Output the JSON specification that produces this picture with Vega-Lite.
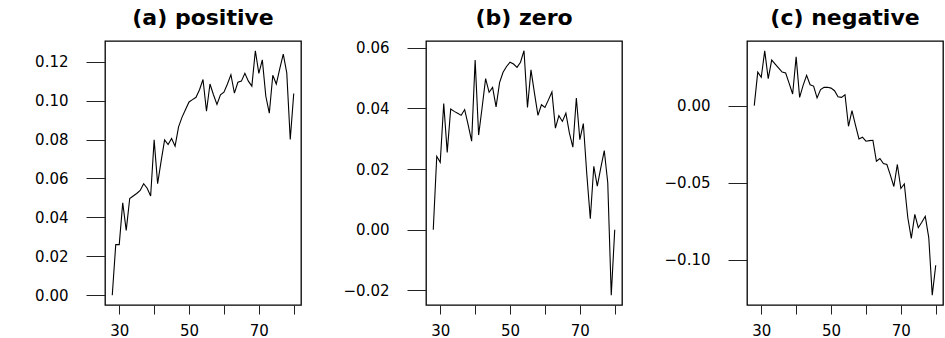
{
  "$schema": "https://vega.github.io/schema/vega-lite/v6.json",
  "background": "white",
  "padding": {"left": 33, "top": 6, "right": 0, "bottom": 0},
  "data": {"values": [
    {"panel":"a","age":28,"v":0.000},{"panel":"a","age":29,"v":0.026},{"panel":"a","age":30,"v":0.026},{"panel":"a","age":31,"v":0.0475},{"panel":"a","age":32,"v":0.0333},{"panel":"a","age":33,"v":0.0497},{"panel":"a","age":34,"v":0.051},{"panel":"a","age":35,"v":0.0523},{"panel":"a","age":36,"v":0.0538},{"panel":"a","age":37,"v":0.0573},{"panel":"a","age":38,"v":0.055},{"panel":"a","age":39,"v":0.051},{"panel":"a","age":40,"v":0.0798},{"panel":"a","age":41,"v":0.0573},{"panel":"a","age":42,"v":0.0689},{"panel":"a","age":43,"v":0.0798},{"panel":"a","age":44,"v":0.0774},{"panel":"a","age":45,"v":0.0805},{"panel":"a","age":46,"v":0.0766},{"panel":"a","age":47,"v":0.0865},{"panel":"a","age":48,"v":0.0915},{"panel":"a","age":49,"v":0.0954},{"panel":"a","age":50,"v":0.0993},{"panel":"a","age":51,"v":0.1005},{"panel":"a","age":52,"v":0.1017},{"panel":"a","age":53,"v":0.1056},{"panel":"a","age":54,"v":0.1108},{"panel":"a","age":55,"v":0.0945},{"panel":"a","age":56,"v":0.1085},{"panel":"a","age":57,"v":0.103},{"panel":"a","age":58,"v":0.098},{"panel":"a","age":59,"v":0.103},{"panel":"a","age":60,"v":0.1043},{"panel":"a","age":61,"v":0.1085},{"panel":"a","age":62,"v":0.1133},{"panel":"a","age":63,"v":0.1038},{"panel":"a","age":64,"v":0.1094},{"panel":"a","age":65,"v":0.11},{"panel":"a","age":66,"v":0.114},{"panel":"a","age":67,"v":0.11},{"panel":"a","age":68,"v":0.1074},{"panel":"a","age":69,"v":0.1256},{"panel":"a","age":70,"v":0.114},{"panel":"a","age":71,"v":0.1209},{"panel":"a","age":72,"v":0.1022},{"panel":"a","age":73,"v":0.0935},{"panel":"a","age":74,"v":0.113},{"panel":"a","age":75,"v":0.1085},{"panel":"a","age":76,"v":0.1164},{"panel":"a","age":77,"v":0.1239},{"panel":"a","age":78,"v":0.1142},{"panel":"a","age":79,"v":0.08},{"panel":"a","age":80,"v":0.1036},
    {"panel":"b","age":28,"v":0.000},{"panel":"b","age":29,"v":0.0242},{"panel":"b","age":30,"v":0.0222},{"panel":"b","age":31,"v":0.0416},{"panel":"b","age":32,"v":0.0255},{"panel":"b","age":33,"v":0.0398},{"panel":"b","age":34,"v":0.039},{"panel":"b","age":35,"v":0.0384},{"panel":"b","age":36,"v":0.0377},{"panel":"b","age":37,"v":0.0396},{"panel":"b","age":38,"v":0.0346},{"panel":"b","age":39,"v":0.0292},{"panel":"b","age":40,"v":0.0559},{"panel":"b","age":41,"v":0.0312},{"panel":"b","age":42,"v":0.0403},{"panel":"b","age":43,"v":0.0498},{"panel":"b","age":44,"v":0.0453},{"panel":"b","age":45,"v":0.0469},{"panel":"b","age":46,"v":0.0405},{"panel":"b","age":47,"v":0.0485},{"panel":"b","age":48,"v":0.0519},{"panel":"b","age":49,"v":0.0538},{"panel":"b","age":50,"v":0.0552},{"panel":"b","age":51,"v":0.0546},{"panel":"b","age":52,"v":0.0535},{"panel":"b","age":53,"v":0.0552},{"panel":"b","age":54,"v":0.059},{"panel":"b","age":55,"v":0.0403},{"panel":"b","age":56,"v":0.0527},{"panel":"b","age":57,"v":0.045},{"panel":"b","age":58,"v":0.0377},{"panel":"b","age":59,"v":0.0412},{"panel":"b","age":60,"v":0.0403},{"panel":"b","age":61,"v":0.0428},{"panel":"b","age":62,"v":0.0454},{"panel":"b","age":63,"v":0.0335},{"panel":"b","age":64,"v":0.0376},{"panel":"b","age":65,"v":0.0357},{"panel":"b","age":66,"v":0.0384},{"panel":"b","age":67,"v":0.0319},{"panel":"b","age":68,"v":0.0272},{"panel":"b","age":69,"v":0.0434},{"panel":"b","age":70,"v":0.0297},{"panel":"b","age":71,"v":0.035},{"panel":"b","age":72,"v":0.0182},{"panel":"b","age":73,"v":0.0036},{"panel":"b","age":74,"v":0.0209},{"panel":"b","age":75,"v":0.0144},{"panel":"b","age":76,"v":0.0204},{"panel":"b","age":77,"v":0.0261},{"panel":"b","age":78,"v":0.0155},{"panel":"b","age":79,"v":-0.0216},{"panel":"b","age":80,"v":0.000},
    {"panel":"c","age":28,"v":0.000},{"panel":"c","age":29,"v":0.0218},{"panel":"c","age":30,"v":0.0184},{"panel":"c","age":31,"v":0.0356},{"panel":"c","age":32,"v":0.0175},{"panel":"c","age":33,"v":0.0296},{"panel":"c","age":34,"v":0.027},{"panel":"c","age":35,"v":0.0244},{"panel":"c","age":36,"v":0.0218},{"panel":"c","age":37,"v":0.0212},{"panel":"c","age":38,"v":0.0145},{"panel":"c","age":39,"v":0.0076},{"panel":"c","age":40,"v":0.0317},{"panel":"c","age":41,"v":0.0054},{"panel":"c","age":42,"v":0.0132},{"panel":"c","age":43,"v":0.0197},{"panel":"c","age":44,"v":0.0136},{"panel":"c","age":45,"v":0.0127},{"panel":"c","age":46,"v":0.005},{"panel":"c","age":47,"v":0.0104},{"panel":"c","age":48,"v":0.0119},{"panel":"c","age":49,"v":0.0119},{"panel":"c","age":50,"v":0.0114},{"panel":"c","age":51,"v":0.0097},{"panel":"c","age":52,"v":0.0058},{"panel":"c","age":53,"v":0.0054},{"panel":"c","age":54,"v":0.0071},{"panel":"c","age":55,"v":-0.0134},{"panel":"c","age":56,"v":-0.0032},{"panel":"c","age":57,"v":-0.0127},{"panel":"c","age":58,"v":-0.0216},{"panel":"c","age":59,"v":-0.0205},{"panel":"c","age":60,"v":-0.0231},{"panel":"c","age":61,"v":-0.0227},{"panel":"c","age":62,"v":-0.0225},{"panel":"c","age":63,"v":-0.0361},{"panel":"c","age":64,"v":-0.0343},{"panel":"c","age":65,"v":-0.0376},{"panel":"c","age":66,"v":-0.0382},{"panel":"c","age":67,"v":-0.0451},{"panel":"c","age":68,"v":-0.0525},{"panel":"c","age":69,"v":-0.0382},{"panel":"c","age":70,"v":-0.0538},{"panel":"c","age":71,"v":-0.0508},{"panel":"c","age":72,"v":-0.0728},{"panel":"c","age":73,"v":-0.0862},{"panel":"c","age":74,"v":-0.0706},{"panel":"c","age":75,"v":-0.0793},{"panel":"c","age":76,"v":-0.0758},{"panel":"c","age":77,"v":-0.0719},{"panel":"c","age":78,"v":-0.0857},{"panel":"c","age":79,"v":-0.1231},{"panel":"c","age":80,"v":-0.1037}
  ]},
  "spacing": 125,
  "bounds": "flush",
  "hconcat": [
    {
      "width": 196, "height": 264,
      "title": "(a) positive",
      "transform": [{"filter": "datum.panel == 'a'"}],
      "mark": {"type": "line", "color": "black", "strokeWidth": 1.1},
      "encoding": {
        "x": {"field": "age", "type": "quantitative", "title": null,
              "scale": {"domain": [25.92, 82.08], "nice": false, "zero": false},
              "axis": {"values": [30, 40, 50, 60, 70, 80], "labelExpr": "datum.value % 20 == 10 ? datum.label : ''"}},
        "y": {"field": "v", "type": "quantitative", "title": null,
              "scale": {"domain": [-0.005, 0.1306], "nice": false, "zero": false},
              "axis": {"values": [0, 0.02, 0.04, 0.06, 0.08, 0.1, 0.12], "format": ".2f"}}
      }
    },
    {
      "width": 196, "height": 264,
      "title": "(b) zero",
      "transform": [{"filter": "datum.panel == 'b'"}],
      "mark": {"type": "line", "color": "black", "strokeWidth": 1.1},
      "encoding": {
        "x": {"field": "age", "type": "quantitative", "title": null,
              "scale": {"domain": [25.92, 82.08], "nice": false, "zero": false},
              "axis": {"values": [30, 40, 50, 60, 70, 80], "labelExpr": "datum.value % 20 == 10 ? datum.label : ''"}},
        "y": {"field": "v", "type": "quantitative", "title": null,
              "scale": {"domain": [-0.0248, 0.0622], "nice": false, "zero": false},
              "axis": {"values": [-0.02, 0, 0.02, 0.04, 0.06], "format": ".2f"}}
      }
    },
    {
      "width": 196, "height": 264,
      "title": "(c) negative",
      "transform": [{"filter": "datum.panel == 'c'"}],
      "mark": {"type": "line", "color": "black", "strokeWidth": 1.1},
      "encoding": {
        "x": {"field": "age", "type": "quantitative", "title": null,
              "scale": {"domain": [25.92, 82.08], "nice": false, "zero": false},
              "axis": {"values": [30, 40, 50, 60, 70, 80], "labelExpr": "datum.value % 20 == 10 ? datum.label : ''"}},
        "y": {"field": "v", "type": "quantitative", "title": null,
              "scale": {"domain": [-0.1295, 0.042], "nice": false, "zero": false},
              "axis": {"values": [-0.1, -0.05, 0], "format": ".2f"}}
      }
    }
  ],
  "config": {
    "view": {"stroke": "black", "strokeWidth": 1.3},
    "axis": {"domain": false, "grid": false, "labelFont": "DejaVu Sans", "labelFontSize": 15, "labelColor": "black", "tickColor": "#222", "tickWidth": 1, "labelOverlap": false, "labelFlush": false},
    "axisY": {"tickSize": 19, "labelPadding": 18},
    "axisX": {"tickSize": 9, "labelPadding": 9},
    "title": {"font": "DejaVu Sans", "fontSize": 22, "fontWeight": "bold", "color": "black", "anchor": "middle", "baseline": "alphabetic", "offset": 11}
  }
}
